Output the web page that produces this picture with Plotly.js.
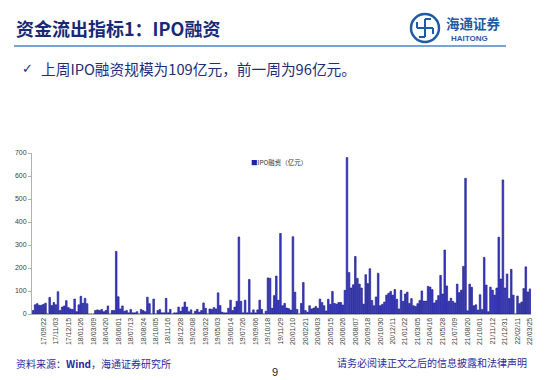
<!DOCTYPE html>
<html>
<head>
<meta charset="utf-8">
<script src="https://cdn.plot.ly/plotly-3.0.1.min.js"></script>
<style>
  html, body { margin: 0; padding: 0; background: #ffffff; }
  #chart { width: 550px; height: 380px; }
</style>
</head>
<body>
<div id="chart"></div>
<script>
// ---------------- DATA ----------------
const startDate = '2017-08-18';     // first weekly bar
const skippedWeeks = ['21/12/24'];  // week missing from the source series
const tickLabels = ['17/09/22','17/11/03','17/12/15','18/01/26','18/03/09','18/04/20','18/06/01','18/07/13',
  '18/08/24','18/10/05','18/11/16','18/12/28','19/02/08','19/03/22','19/05/03','19/06/14','19/07/26',
  '19/09/06','19/10/18','19/11/29','20/01/10','20/02/21','20/04/03','20/05/15','20/06/26','20/08/07',
  '20/09/18','20/10/30','20/12/11','21/01/22','21/03/05','21/04/16','21/05/28','21/07/09','21/08/20',
  '21/10/01','21/11/12','21/12/31','22/02/11','22/03/25'];
const ipoFinancing = [
  15,40,45,38,38,42,47,0,72,37,
  50,40,97,15,30,35,58,28,22,20,
  65,10,40,77,47,68,45,0,0,0,
  15,18,15,20,10,15,35,0,15,15,
  272,75,22,35,12,15,5,20,5,5,
  10,0,20,15,10,73,45,0,65,0,
  15,20,5,5,68,5,20,0,5,5,
  30,12,30,52,30,10,18,0,12,20,
  8,15,48,25,0,22,20,28,22,92,
  37,8,5,5,25,60,15,30,55,335,
  55,5,60,5,150,5,18,5,18,60,
  20,0,12,157,155,25,80,165,60,350,
  36,46,26,23,17,336,95,20,0,46,
  137,15,8,36,22,26,33,25,65,50,
  36,13,64,42,98,46,43,50,50,39,
  103,680,180,113,127,250,155,130,113,43,
  171,132,197,59,36,74,177,36,42,52,
  82,90,98,82,106,64,22,103,55,87,
  95,46,67,36,33,45,59,100,56,56,
  120,117,106,48,59,80,168,87,278,122,
  55,69,55,48,130,93,104,207,590,14,
  130,116,36,40,17,84,20,246,126,10,
  117,104,82,113,334,152,583,113,174,67,
  194,82,0,78,45,52,111,205,96,109
];
const seriesName = 'IPO融资（亿元）';
const pageTitle = '资金流出指标1：IPO融资';
const bulletText = '上周IPO融资规模为109亿元，前一周为96亿元。';
const sourceText = '资料来源：<b>Wind</b>，海通证券研究所';
const disclaimer = '请务必阅读正文之后的信息披露和法律声明';
const pageNo = '9';

// weekly category labels
function pad(n){ return (n < 10 ? '0' : '') + n; }
const weeks = [];
{
  let d = new Date(startDate + 'T00:00:00Z');
  while (weeks.length < ipoFinancing.length) {
    const s = pad(d.getUTCFullYear() % 100) + '/' + pad(d.getUTCMonth() + 1) + '/' + pad(d.getUTCDate());
    if (skippedWeeks.indexOf(s) < 0) weeks.push(s);
    d = new Date(d.getTime() + 7 * 86400000);
  }
}

// ---------------- LAYOUT HELPERS ----------------
const W = 550, H = 380;
const PL = 32, PR = 531, PT = 153, PB = 314;   // plot area in px
const px = x => (x - PL) / (PR - PL);
const py = y => (PB - y) / (PB - PT);
const CJK = '"Noto Sans CJK SC", "Noto Sans", sans-serif';
const SANS = '"Liberation Sans", Arial, sans-serif';

const trace = {
  type: 'bar',
  x: weeks,
  y: ipoFinancing,
  name: seriesName,
  marker: { color: '#4040c0', line: { color: '#10108c', width: 0.6 } },
  hoverinfo: 'x+y'
};

const annotations = [
  { text: pageTitle, x: px(14), y: py(28), xanchor: 'left', yanchor: 'middle',
    font: { family: CJK, size: 18, color: '#1a2878', weight: 700 } },
  { text: '✓', x: px(20), y: py(69), xanchor: 'left', yanchor: 'middle',
    font: { family: '"DejaVu Sans", sans-serif', size: 13, color: '#1d2d7a' } },
  { text: bulletText, x: px(39), y: py(69), xanchor: 'left', yanchor: 'middle',
    font: { family: CJK, size: 14.7, color: '#1d2d7a' } },
  { text: '海通证券', x: px(444), y: py(23), xanchor: 'left', yanchor: 'middle',
    font: { family: CJK, size: 13.5, color: '#1f5aa6', weight: 700 } },
  { text: '<b>HAITONG</b>', x: px(469), y: py(38), xanchor: 'center', yanchor: 'middle',
    font: { family: SANS, size: 8, color: '#1f5aa6' } },
  { text: '<span style="color:#2020a8">■</span>' + seriesName, x: px(249), y: py(162),
    xanchor: 'left', yanchor: 'middle', font: { family: CJK, size: 6.5, color: '#333333' } },
  { text: sourceText, x: px(14), y: py(363), xanchor: 'left', yanchor: 'middle',
    font: { family: CJK, size: 10, color: '#2a2aa0' } },
  { text: disclaimer, x: px(529), y: py(362), xanchor: 'right', yanchor: 'middle',
    font: { family: CJK, size: 10, color: '#2a2aa0' } },
  { text: pageNo, x: px(275), y: py(372), xanchor: 'center', yanchor: 'middle',
    font: { family: SANS, size: 11, color: '#222222' } }
].map(a => Object.assign({ xref: 'paper', yref: 'paper', showarrow: false }, a));

const shapes = [
  // rule under the title
  { type: 'line', x0: px(14), x1: px(506), y0: py(46), y1: py(46),
    line: { color: '#4a86c4', width: 1.5 } },
  // Haitong emblem
  { type: 'circle', x0: px(411), x1: px(439), y0: py(14), y1: py(42),
    line: { color: '#1f5aa6', width: 2.5 }, fillcolor: 'rgba(0,0,0,0)' },
  { type: 'path', path: '', line: { color: '#1f5aa6', width: 2 } }
].map(s => Object.assign({ xref: 'paper', yref: 'paper' }, s));

// emblem interior strokes (paper coords)
function P(x, y){ return px(x) + ',' + py(y); }
shapes[2].path = 'M' + P(417,28) + ' L' + P(433,28) + ' M' + P(425,19) + ' L' + P(425,37) +
  ' M' + P(417,28) + ' L' + P(417,22) + ' M' + P(433,28) + ' L' + P(433,34) +
  ' M' + P(425,19) + ' L' + P(431,19) + ' M' + P(425,37) + ' L' + P(419,37);

const layout = {
  width: W, height: H,
  margin: { l: PL, r: W - PR, t: PT, b: H - PB, pad: 0 },
  paper_bgcolor: '#ffffff', plot_bgcolor: '#ffffff',
  showlegend: false,
  bargap: 0.22,
  xaxis: {
    type: 'category',
    range: [-0.5, ipoFinancing.length - 0.5],
    tickmode: 'array', tickvals: tickLabels, ticktext: tickLabels,
    tickangle: -90,
    tickfont: { family: SANS, size: 7, color: '#404040' },
    showgrid: false, zeroline: false,
    showline: true, linecolor: '#b0b0b0', linewidth: 1,
    ticks: '', automargin: false
  },
  yaxis: {
    range: [0, 700], tickvals: [0,100,200,300,400,500,600,700],
    tickfont: { family: SANS, size: 7, color: '#404040' },
    showgrid: false, zeroline: false,
    showline: true, linecolor: '#b0b0b0', linewidth: 1,
    ticks: 'outside', ticklen: 3, tickcolor: '#b0b0b0',
    automargin: false
  },
  annotations: annotations,
  shapes: shapes
};

Plotly.newPlot('chart', [trace], layout, { displayModeBar: false, staticPlot: true });
</script>
</body>
</html>
